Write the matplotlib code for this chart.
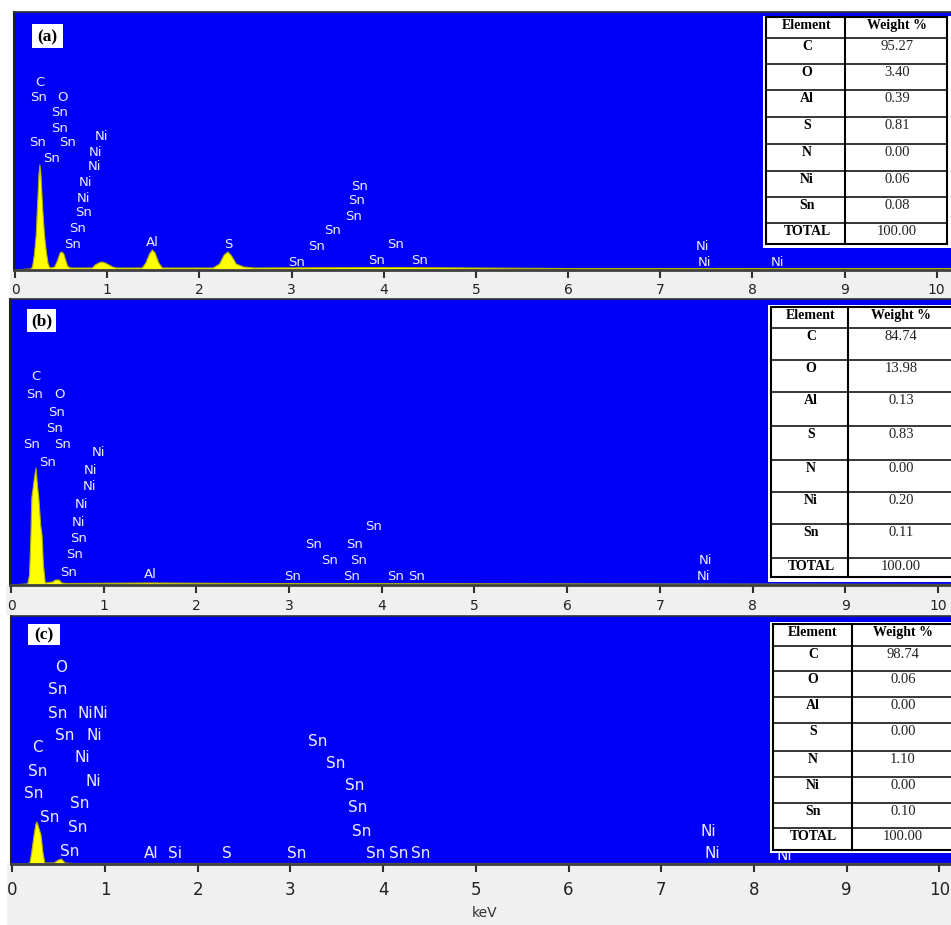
import matplotlib.pyplot as plt
from matplotlib.patches import Rectangle

# ============================
# Data
# ============================
elements = ["C", "O", "Al", "S", "N", "Ni", "Sn", "TOTAL"]
weights_a = ["95.27", "3.40", "0.39", "0.81", "0.00", "0.06", "0.08", "100.00"]
weights_b = ["84.74", "13.98", "0.13", "0.83", "0.00", "0.20", "0.11", "100.00"]
weights_c = ["98.74", "0.06", "0.00", "0.00", "1.10", "0.00", "0.10", "100.00"]

kev_ticks = list(range(11))

# spectrum (a): energy (keV) and counts
spec_a_kev = [0.00, 0.15, 0.17, 0.19, 0.21, 0.23, 0.245, 0.26, 0.27, 0.28,
              0.29, 0.30, 0.32, 0.34, 0.36, 0.38, 0.43, 0.46, 0.49, 0.51,
              0.53, 0.55, 0.57, 0.60, 0.84, 0.87, 0.91, 0.94, 0.98, 1.02,
              1.06, 1.10, 1.38, 1.42, 1.46, 1.49, 1.52, 1.56, 1.60, 2.15,
              2.22, 2.27, 2.31, 2.35, 2.40, 2.48, 2.60, 4.00, 6.00, 10.5]
spec_a_cnt = [0, 1, 1, 3, 15, 35, 65, 95, 105, 98,
              80, 62, 35, 18, 6, 2, 3, 9, 17, 18,
              16, 10, 4, 2, 2, 5, 7, 8, 7, 5,
              3, 2, 2, 7, 16, 20, 17, 7, 2, 2,
              6, 15, 18, 14, 6, 3, 2, 2.5, 1.5, 1.5]

# spectrum (b)
spec_b_kev = [0.00, 0.16, 0.18, 0.20, 0.215, 0.225, 0.25, 0.27, 0.285, 0.30,
              0.32, 0.335, 0.35, 0.37, 0.45, 0.48, 0.52, 0.55, 0.60, 1.50,
              2.60, 10.5]
spec_b_cnt = [0, 1, 1, 10, 50, 87, 105, 117, 100, 87,
              60, 50, 20, 2, 3, 5, 5, 2, 1.5, 2,
              1.5, 0.5]

# spectrum (c)
spec_c_kev = [0.00, 0.17, 0.19, 0.21, 0.235, 0.255, 0.266, 0.28, 0.31, 0.33,
              0.35, 0.45, 0.50, 0.53, 0.57, 0.65, 10.5]
spec_c_cnt = [0, 0.5, 1, 12, 29, 40, 42, 38, 29, 12,
              1, 1, 4, 5, 1, 0.5, 0.5]

# line labels: (text, keV, stack height)
labels_a = [("C", 0.27, 188), ("Sn", 0.26, 173), ("O", 0.52, 173),
            ("Sn", 0.48, 157), ("Sn", 0.48, 142), ("Sn", 0.24, 127),
            ("Sn", 0.575, 127), ("Ni", 0.94, 133), ("Sn", 0.40, 112),
            ("Ni", 0.87, 118), ("Ni", 0.86, 103), ("Ni", 0.77, 87),
            ("Ni", 0.74, 71), ("Sn", 0.74, 57), ("Sn", 0.68, 41),
            ("Sn", 0.62, 26), ("Al", 1.49, 28), ("S", 2.31, 26),
            ("Sn", 3.74, 84), ("Sn", 3.71, 69), ("Sn", 3.67, 53),
            ("Sn", 3.45, 39), ("Sn", 3.27, 23), ("Sn", 3.05, 8),
            ("Sn", 4.13, 25), ("Sn", 3.92, 10), ("Sn", 4.39, 10),
            ("Ni", 7.46, 23), ("Ni", 7.48, 8), ("Ni", 8.27, 8)]

labels_b = [("C", 0.27, 208), ("Sn", 0.25, 190), ("O", 0.52, 190),
            ("Sn", 0.49, 173), ("Sn", 0.475, 157), ("Sn", 0.22, 140),
            ("Sn", 0.56, 140), ("Ni", 0.94, 132), ("Sn", 0.39, 123),
            ("Ni", 0.86, 115), ("Ni", 0.85, 98), ("Ni", 0.76, 81),
            ("Ni", 0.73, 63), ("Sn", 0.73, 46), ("Sn", 0.69, 30),
            ("Sn", 0.62, 13), ("Al", 1.50, 10), ("Sn", 3.91, 58),
            ("Sn", 3.26, 41), ("Sn", 3.71, 41), ("Sn", 3.44, 24),
            ("Sn", 3.75, 24), ("Sn", 3.04, 8), ("Sn", 3.67, 8),
            ("Sn", 4.15, 8), ("Sn", 4.38, 8), ("Ni", 7.49, 24),
            ("Ni", 7.47, 8)]

labels_c = [("O", 0.53, 197), ("Sn", 0.49, 174), ("Sn", 0.49, 151),
            ("Ni", 0.79, 151), ("Ni", 0.95, 151), ("Sn", 0.57, 128),
            ("Ni", 0.88, 128), ("C", 0.27, 116), ("Ni", 0.75, 106),
            ("Sn", 0.27, 92), ("Ni", 0.87, 83), ("Sn", 0.23, 70),
            ("Sn", 0.73, 60), ("Sn", 0.40, 47), ("Sn", 0.70, 37),
            ("Sn", 0.62, 13), ("Al", 1.50, 10), ("Si", 1.76, 10),
            ("S", 2.31, 10), ("Sn", 3.07, 10), ("Sn", 3.29, 123),
            ("Sn", 3.49, 101), ("Sn", 3.69, 78), ("Sn", 3.73, 56),
            ("Sn", 3.77, 32), ("Sn", 3.92, 10), ("Sn", 4.17, 10),
            ("Sn", 4.41, 10), ("Ni", 7.51, 33), ("Ni", 7.55, 10),
            ("Ni", 8.33, 9)]

# ============================
# Layout (pixels)
# ============================
W, H = 951, 925
BLUE = "#0000f6"
STRIP = "#f0f0f0"

panels = [
    dict(tag="(a)", kev=spec_a_kev, cnt=spec_a_cnt, labels=labels_a, weights=weights_a,
         left=14, top=12, base=270, x0=15.0, s=92.17, bottom=298, lfs=9.5, tfs=10, pad=3,
         tagbox=(32, 24, 63, 48),
         table=dict(box=(763, 16, 951, 248), xs=(766, 845, 947),
                    ys=[17, 38, 64, 90, 117, 144, 171, 197, 223, 244],
                    cx=(807, 897))),
    dict(tag="(b)", kev=spec_b_kev, cnt=spec_b_cnt, labels=labels_b, weights=weights_b,
         left=10, top=299, base=585, x0=11.0, s=92.7, bottom=615, lfs=9.5, tfs=10, pad=4,
         tagbox=(27, 309, 56, 332),
         table=dict(box=(768, 305, 951, 582), xs=(771, 848, 953),
                    ys=[307, 328, 360, 392, 426, 460, 492, 524, 558, 577],
                    cx=(811, 901))),
    dict(tag="(c)", kev=spec_c_kev, cnt=spec_c_cnt, labels=labels_c, weights=weights_c,
         left=11, top=616, base=864, x0=12.3, s=92.7, bottom=925, lfs=11, tfs=12, pad=6,
         tagbox=(28, 624, 60, 645),
         table=dict(box=(770, 622, 951, 853), xs=(773, 852, 953),
                    ys=[624, 646, 671, 697, 723, 751, 777, 803, 828, 850],
                    cx=(813, 903))),
]

fig = plt.figure(figsize=(W / 100, H / 100), dpi=100)
fig.patch.set_facecolor("white")


def px_axes(left, top, width, height):
    return fig.add_axes([left / W, 1 - (top + height) / H, width / W, height / H])


# gray strips under each spectrum (behind the axes)
for p in panels:
    fig.patches.append(Rectangle(((p["left"] - 4) / W, 1 - p["bottom"] / H),
                                 (W - p["left"] + 4) / W, (p["bottom"] - p["base"]) / H,
                                 transform=fig.transFigure, facecolor=STRIP,
                                 edgecolor="none", zorder=-5))

# ============================
# Spectra
# ============================
for p in panels:
    ax = px_axes(p["left"], p["top"], W - p["left"], p["base"] - p["top"])
    ax.set_facecolor(BLUE)
    ax.set_xlim((p["left"] - p["x0"]) / p["s"], (W - p["x0"]) / p["s"])
    ax.set_ylim(0, p["base"] - p["top"])

    ax.fill_between(p["kev"], p["cnt"], 0, color="#ffff00", lw=0, zorder=2)
    ax.plot(p["kev"], p["cnt"], color="#b0b000", lw=0.8, zorder=2)

    for t, x, y in p["labels"]:
        ax.text(x, y, t, ha="center", va="center", color="#eeeaff",
                fontsize=p["lfs"], family="DejaVu Sans", zorder=3, clip_on=True)

    ax.spines["right"].set_visible(False)
    ax.spines["left"].set_color("#202020")
    ax.spines["left"].set_linewidth(1.5)
    ax.spines["top"].set_color("#303030")
    ax.spines["top"].set_linewidth(1.2)
    ax.spines["bottom"].set_color("#404040")
    ax.spines["bottom"].set_linewidth(2)

    ax.set_yticks([])
    ax.set_xticks(kev_ticks)
    ax.set_xticklabels([str(k) for k in kev_ticks])
    ax.tick_params(axis="x", direction="out", length=6, width=1.5, color="#303030",
                   labelsize=p["tfs"], labelcolor="#222222", pad=p["pad"])

# ============================
# Overlay: tables, tags, axis title
# ============================
ov = fig.add_axes([0, 0, 1, 1])
ov.set_xlim(0, W)
ov.set_ylim(H, 0)
ov.axis("off")
ov.patch.set_visible(False)

for p in panels:
    tb = p["table"]
    bx0, by0, bx1, by1 = tb["box"]
    ov.add_patch(Rectangle((bx0, by0), bx1 - bx0, by1 - by0, facecolor="white",
                           edgecolor="none", zorder=5))
    xl, xm, xr = tb["xs"]
    ys = tb["ys"]
    for i, y in enumerate(ys):
        lw = 1.5 if i in (0, len(ys) - 1) else 1.1
        ov.plot([xl, xr], [y, y], color="black", lw=lw, zorder=6)
    for x in (xl, xm, xr):
        ov.plot([x, x], [ys[0], ys[-1]], color="black", lw=1.5, zorder=6)

    ex, vx = tb["cx"]
    ov.text(ex, ys[0] + 8.5, "Element", ha="center", va="center", fontsize=10,
            family="Liberation Serif", weight="bold", zorder=7)
    ov.text(vx, ys[0] + 8.5, "Weight %", ha="center", va="center", fontsize=10,
            family="Liberation Serif", weight="bold", zorder=7)
    for i, (el, wt) in enumerate(zip(elements, p["weights"])):
        yc = ys[i + 1] + 8.5
        ov.text(ex, yc, el, ha="center", va="center", fontsize=10,
                family="Liberation Serif", weight="bold", zorder=7)
        ov.text(vx, yc, wt, ha="center", va="center", fontsize=10.5,
                family="Liberation Serif", color="#222222", zorder=7)

    # panel tag
    tx0, ty0, tx1, ty1 = p["tagbox"]
    ov.add_patch(Rectangle((tx0, ty0), tx1 - tx0, ty1 - ty0, facecolor="white",
                           edgecolor="none", zorder=5))
    ov.text((tx0 + tx1) / 2, (ty0 + ty1) / 2 + 1, p["tag"], ha="center", va="center",
            fontsize=12.5, family="Liberation Serif", weight="bold", zorder=7)

ov.text(485, 913, "keV", ha="center", va="center", fontsize=10,
        family="DejaVu Sans", color="#333333")

fig.savefig("out.png", dpi=100)
